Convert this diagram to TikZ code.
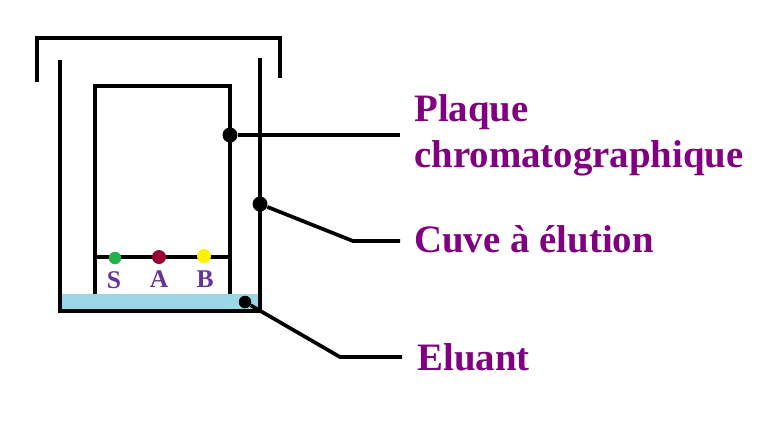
\documentclass[tikz,border=0pt]{standalone}
\usepackage{fontspec}
\setmainfont{Liberation Serif}
\definecolor{titlepurple}{HTML}{800080}
\definecolor{spotpurple}{HTML}{663399}
\definecolor{eluantblue}{HTML}{99D6E6}
\definecolor{spotgreen}{HTML}{22B14C}
\definecolor{spotred}{HTML}{990033}
\definecolor{spotyellow}{HTML}{FFF200}
\tikzset{
   wall/.style={draw=black, line width=2.2pt},
   lead/.style={draw=black, line width=2.1pt},
   pin/.style={fill=black, shape=circle, minimum size=0.3cm, inner sep=0pt},
   spot/.style={shape=circle, minimum size=0.28cm, inner sep=0pt},
   caption/.style={anchor=base west, inner sep=0pt, text=titlepurple, font=\fontsize{22.1}{24}\selectfont\bfseries},
   spot label/.style={anchor=base, inner sep=0pt, text=spotpurple, font=\fontsize{14.5}{16}\selectfont\bfseries}
}
\begin{document}
\begin{tikzpicture}[x=0.02cm,y=-0.02cm]
  \useasboundingbox (0,0) rectangle (782,434);

  % eluant under the walls
  \fill[eluantblue] (62,294) rectangle (258,309);

  % lid, tank, plate
  \draw[wall] (37,82) -- (37,38) -- (280,38) -- (280,78);
  \draw[wall] (60,60) -- (60,311) -- (260,311) -- (260,58);
  \draw[wall] (95,294) -- (95,86) -- (230,86) -- (230,294);
  \draw[wall] (95,257) -- (230,257);

  \node[spot, fill=spotgreen, minimum size=0.25cm] at (115,258) (spot s) {};
  \node[spot, fill=spotred]    at (159,257) (spot a) {};
  \node[spot, fill=spotyellow] at (204,256) (spot b) {};

  \node[spot label] at (114,288) (label s) {S};
  \node[spot label] at (159,287) (label a) {A};
  \node[spot label] at (205,287) (label b) {B};

  \node[pin] at (230,135) (pin plate) {};
  \node[pin] at (260,204) (pin tank) {};
  \node[pin, minimum size=0.25cm] at (245,302) (pin eluant) {};

  \node[caption] at (414,121) (plaque) {Plaque};
  \node[caption] at (414,167) (chromato) {chromatographique};
  \node[caption] at (414,252) (cuve) {Cuve à élution};
  \node[caption] at (417,370) (eluant) {Eluant};

  \coordinate (end plate) at (400,135);
  \coordinate (bend tank) at (353,241);
  \coordinate (end tank) at (400,241);
  \coordinate (bend eluant) at (340,357);
  \coordinate (end eluant) at (402,357);

  \draw[lead] (pin plate) -- (end plate);
  \draw[lead] (pin tank) -- (bend tank) -- (end tank);
  \draw[lead] (pin eluant) -- (bend eluant) -- (end eluant);

\end{tikzpicture}
\end{document}
